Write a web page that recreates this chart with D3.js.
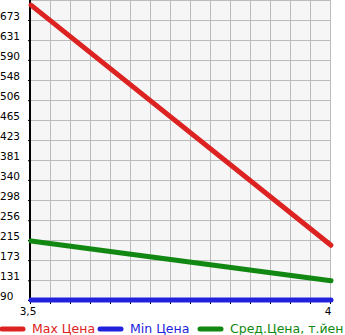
<!DOCTYPE html>
<html>
<head>
<meta charset="utf-8">
<script src="https://cdn.jsdelivr.net/npm/d3@7.9.0/dist/d3.min.js"></script>
<style>
  body { margin: 0; background: #fff; }
  svg { display: block; font-family: "DejaVu Sans", Verdana, sans-serif; }
</style>
</head>
<body>
<svg id="chart" width="345" height="335"></svg>
<script>
const xValues = [3.5, 4];
const maxPrice = [704, 204];
const minPrice = [90, 90];
const avgPrice = [213, 130];
const yTickLabels = [90, 131, 173, 215, 256, 298, 340, 381, 423, 465, 506, 548, 590, 631, 673];
const xTickLabels = ["3,5", "4"];
const seriesNames = ["Max Цена", "Min Цена", "Сред.Цена, т.йен"];
const seriesColors = ["#dd2222", "#2222dd", "#118811"];

const svg = d3.select("#chart");
const plotLeft = 31, plotRight = 331, plotTop = 0, plotBottom = 300;

const yStep = (673 - 90) / 14;
const x = d3.scaleLinear().domain([3.5, 4]).range([plotLeft, plotRight]);
const y = d3.scaleLinear().domain([90, 90 + 15 * yStep]).range([plotBottom, plotTop]);

// plot background
svg.append("rect")
  .attr("x", plotLeft).attr("y", plotTop)
  .attr("width", plotRight - plotLeft).attr("height", plotBottom - plotTop)
  .attr("fill", "#f6f6f6");

// grid
const gridX = d3.range(16).map((i) => 3.5 + i * 0.5 / 15);
const gridY = d3.range(16).map((i) => 90 + i * yStep);

svg.append("g")
  .selectAll("line")
  .data(gridX)
  .enter()
  .append("line")
  .attr("x1", (d) => x(d) - 0.5).attr("x2", (d) => x(d) - 0.5)
  .attr("y1", plotTop).attr("y2", plotBottom)
  .attr("stroke", "#bbbbbb")
  .attr("stroke-width", 1);

svg.append("g")
  .selectAll("line")
  .data(gridY)
  .enter()
  .append("line")
  .attr("x1", plotLeft).attr("x2", plotRight)
  .attr("y1", (d) => y(d) + 0.5).attr("y2", (d) => y(d) + 0.5)
  .attr("stroke", "#bbbbbb")
  .attr("stroke-width", 1);

// y axis
const yAxis = svg.append("g");
yAxis.append("line")
  .attr("x1", plotLeft - 1).attr("x2", plotLeft - 1)
  .attr("y1", plotTop).attr("y2", plotBottom + 2)
  .attr("stroke", "#000").attr("stroke-width", 2);

yAxis.selectAll("line.tick")
  .data(yTickLabels)
  .enter()
  .append("line")
  .attr("class", "tick")
  .attr("x1", plotLeft - 3).attr("x2", plotLeft)
  .attr("y1", (d) => y(d) + 0.5).attr("y2", (d) => y(d) + 0.5)
  .attr("stroke", "#000");

yAxis.selectAll("text")
  .data(yTickLabels)
  .enter()
  .append("text")
  .attr("x", 0)
  .attr("y", (d) => y(d))
  .attr("font-size", 10.5)
  .attr("fill", "#000")
  .text((d) => d);

// x axis ticks
svg.append("g")
  .selectAll("line")
  .data(gridX)
  .enter()
  .append("line")
  .attr("x1", (d) => x(d) - 0.5).attr("x2", (d) => x(d) - 0.5)
  .attr("y1", plotBottom).attr("y2", plotBottom + 4)
  .attr("stroke", "#000");

svg.append("g")
  .selectAll("text")
  .data(xValues)
  .enter()
  .append("text")
  .attr("x", (d) => x(d) - 3)
  .attr("y", 315)
  .attr("font-size", 10.5)
  .attr("text-anchor", "middle")
  .text((d, i) => xTickLabels[i]);

// series
const line = d3.line()
  .x((d, i) => x(xValues[i]))
  .y((d) => y(d));

const series = [avgPrice, maxPrice, minPrice];
const order = [2, 0, 1];
svg.append("g")
  .selectAll("path")
  .data(series)
  .enter()
  .append("path")
  .attr("d", line)
  .attr("fill", "none")
  .attr("stroke", (d, i) => seriesColors[order[i]])
  .attr("stroke-width", 5)
  .attr("stroke-linecap", "round");

// legend
const legendX = [2, 100, 200];
const legend = svg.append("g")
  .selectAll("g")
  .data(seriesNames)
  .enter()
  .append("g")
  .attr("transform", (d, i) => `translate(${legendX[i]},329)`);

legend.append("line")
  .attr("x1", 0).attr("x2", 21)
  .attr("y1", 0).attr("y2", 0)
  .attr("stroke", (d, i) => seriesColors[i])
  .attr("stroke-width", 5)
  .attr("stroke-linecap", "round");

legend.append("text")
  .attr("x", 30)
  .attr("y", 4)
  .attr("font-size", 12.5)
  .attr("fill", (d, i) => seriesColors[i])
  .text((d) => d);
</script>
</body>
</html>
